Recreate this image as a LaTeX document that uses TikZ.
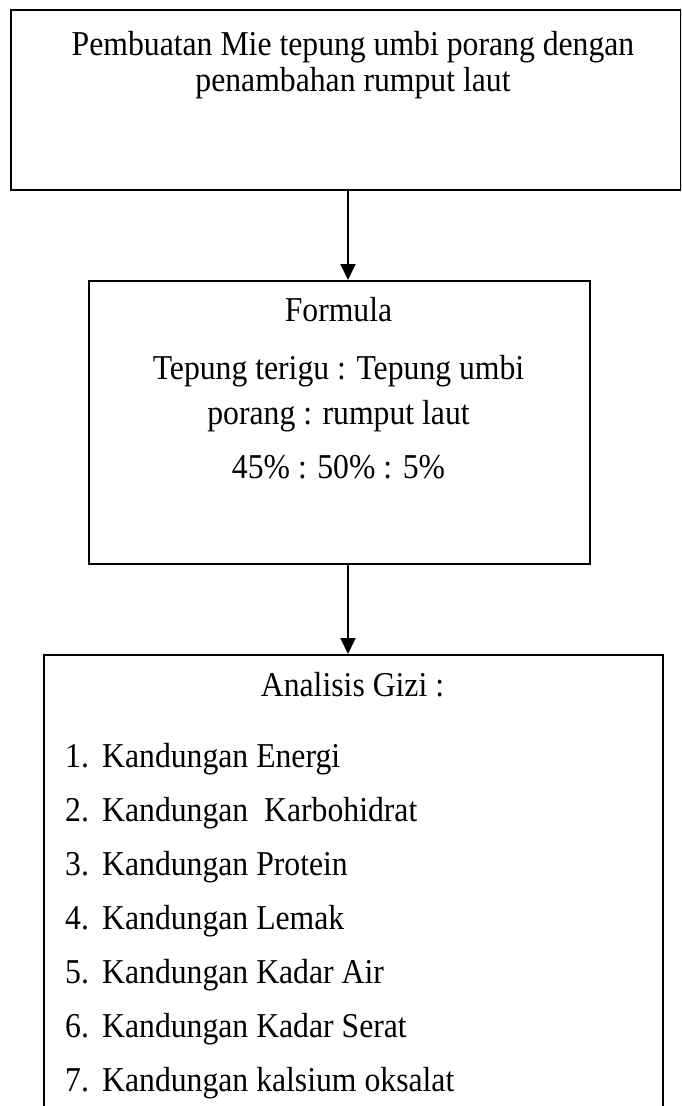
\documentclass[tikz,border=0pt]{standalone}
\usepackage{graphicx}
\usepackage{fontspec}
\setmainfont{Liberation Serif}
\usetikzlibrary{arrows.meta}
\newcommand{\vstr}[1]{\scalebox{1}[1.1]{#1}}
\begin{document}
\begin{tikzpicture}[x=1pt,y=-1pt,
  box/.style={draw, line width=1.8pt, rectangle, inner sep=0pt, anchor=north west},
  conn/.style={line width=1.8pt, -{Triangle[width=15pt,length=16pt]}},
  txt/.style={inner sep=0pt, anchor=base, font=\fontsize{31.7}{36}\selectfont},
  ltxt/.style={txt, anchor=base west}]
\clip (0,0) rectangle (681,1106);
% boxes
\node[box, minimum width=670pt, minimum height=180pt] (top) at (10,9) {};
\node[box, minimum width=501pt, minimum height=283pt] (formula) at (88,280) {};
\node[box, minimum width=619pt, minimum height=520pt] (gizi) at (43,654) {};
% connectors
\coordinate (ax) at (348,0);
\draw[conn] (top.south -| ax) -- (formula.north -| ax);
\draw[conn] (formula.south -| ax) -- (gizi.north -| ax);
% top text
\node[txt] (t1) at (353,55) {\vstr{Pembuatan Mie tepung umbi porang dengan}};
\node[txt] (t2) at (353,91) {\vstr{penambahan rumput laut}};
% formula text
\node[txt] (f1) at (338.5,321) {\vstr{Formula}};
\node[txt] (f2) at (338.5,379) {\vstr{Tepung terigu : Tepung umbi}};
\node[txt] (f3) at (338.5,424) {\vstr{porang : rumput laut}};
\node[txt] (f4) at (338.5,478) {\vstr{45\% : 50\% : 5\%}};
% gizi text
\node[txt] (g0) at (352.5,696) {\vstr{Analisis Gizi :}};
\foreach \i/\t [count=\k from 0] in {1/Kandungan Energi,2/Kandungan\ \ Karbohidrat,3/Kandungan Protein,4/Kandungan Lemak,5/Kandungan Kadar Air,6/Kandungan Kadar Serat,7/Kandungan kalsium oksalat}{
  \node[ltxt] (n\i) at (65,767+54*\k) {\vstr{\i.}};
  \node[ltxt] (g\i) at (102,767+54*\k) {\vstr{\t}};
}
\end{tikzpicture}
\end{document}
